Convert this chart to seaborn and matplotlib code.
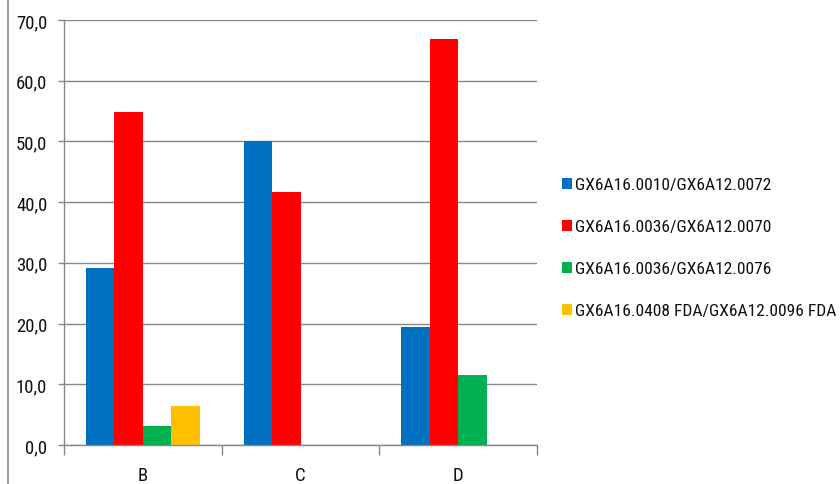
import matplotlib
matplotlib.use("Agg")
import matplotlib.pyplot as plt
import matplotlib.ticker as mticker
from matplotlib import font_manager
from matplotlib.lines import Line2D
from matplotlib.patches import Patch
import numpy as np
import pandas as pd
import seaborn as sns

categories = ["B", "C", "D"]
series_names = [
    "GX6A16.0010/GX6A12.0072",
    "GX6A16.0036/GX6A12.0070",
    "GX6A16.0036/GX6A12.0076",
    "GX6A16.0408 FDA/GX6A12.0096 FDA",
]
s1 = [29.1, 50.0, 19.5]
s2 = [54.9, 41.6, 66.8]
s3 = [3.1, 0.0, 11.6]
s4 = [6.4, 0.0, 0.0]
colors = ["#0070C0", "#FF0000", "#00B050", "#FFC000"]
yticks = [0, 10, 20, 30, 40, 50, 60, 70]

rows = []
for name, vals in zip(series_names, [s1, s2, s3, s4]):
    for c, v in zip(categories, vals):
        rows.append({"cat": c, "series": name, "value": v})
df = pd.DataFrame(rows)

sns.set_theme(style="white")

installed = {f.name for f in font_manager.fontManager.ttflist}
text_family = "Roboto"
for cand in ["Roboto Condensed", "Liberation Sans Narrow", "Open Sans Condensed"]:
    if cand in installed:
        text_family = cand
        break
plt.rcParams["font.family"] = [text_family, "DejaVu Sans"]

fig = plt.figure(figsize=(8.4, 4.85), dpi=100)
ax = fig.add_axes([64 / 840, 39 / 485, (537 - 64) / 840, (446 - 21) / 485])

sns.barplot(data=df, x="cat", y="value", hue="series", order=categories,
            hue_order=series_names, palette=colors, width=0.72,
            errorbar=None, linewidth=0, saturation=1, legend=False, ax=ax)

ax.set_xlim(-0.5, 2.5)
ax.set_ylim(0, 70)
ax.set_yticks(yticks)
ax.yaxis.set_major_formatter(mticker.FuncFormatter(lambda v, _: f"{v:.1f}".replace(".", ",")))
ax.set_xlabel("")
ax.set_ylabel("")
ax.grid(axis="y", color="#878787", linewidth=1.0)
ax.set_axisbelow(True)
for s in ["top", "right"]:
    ax.spines[s].set_visible(False)
for s in ["left", "bottom"]:
    ax.spines[s].set_color("#878787")
    ax.spines[s].set_linewidth(1.0)

ax.tick_params(axis="y", which="major", length=4, width=1, color="#878787",
               direction="out", labelsize=13.5, labelcolor="#111111", pad=8, left=True)
ax.tick_params(axis="x", which="major", length=0, labelsize=13.5, labelcolor="#111111", pad=15)
ax.set_xticks([-0.5, 0.5, 1.5, 2.5], minor=True)
ax.tick_params(axis="x", which="minor", length=7, width=1, color="#878787", direction="out", bottom=True)

handles = [Patch(facecolor=c, edgecolor="none") for c in colors]


def make_legend(size):
    return fig.legend(handles, series_names, loc="center left", bbox_to_anchor=(0.650, 0.487),
                      frameon=False, prop={"family": text_family, "size": size},
                      handlelength=0.6, handleheight=0.6, handletextpad=0.15,
                      labelspacing=1.58 * 12.3 / size, labelcolor="#111111")


size = 12.8
leg = make_legend(size)
for _ in range(25):
    fig.canvas.draw()
    renderer = fig.canvas.get_renderer()
    right = max(t.get_window_extent(renderer).x1 for t in leg.get_texts())
    if right <= 838:
        break
    leg.remove()
    size -= 0.1
    leg = make_legend(size)

fig.add_artist(Line2D([8 / 840, 8 / 840], [0, 1], color="#9a9a9a", linewidth=1.5,
                      transform=fig.transFigure))

fig.savefig("out.png", dpi=100)
